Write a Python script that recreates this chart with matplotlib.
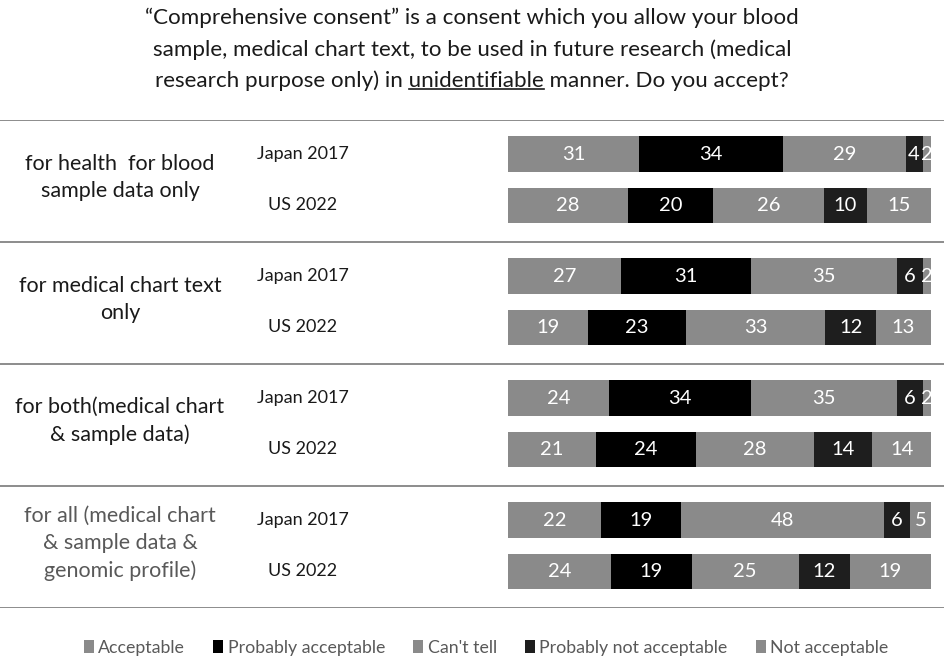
import matplotlib
matplotlib.use("Agg")
import matplotlib.pyplot as plt
from matplotlib.patches import Patch
from matplotlib.lines import Line2D
import numpy as np

plt.rcParams['font.family'] = ['Lato', 'DejaVu Sans']

# ---- data ----
groups = [
    "for health  for blood\nsample data only",
    "for medical chart text\nonly",
    "for both(medical chart\n& sample data)",
    "for all (medical chart\n& sample data &\ngenomic profile)",
]
years = ["Japan 2017", "US 2022"]
categories = ["Acceptable", "Probably acceptable", "Can't tell",
              "Probably not acceptable", "Not acceptable"]

acceptable          = [31, 28, 27, 19, 24, 21, 22, 24]
probably_acceptable = [34, 20, 31, 23, 34, 24, 19, 19]
cant_tell           = [29, 26, 35, 33, 35, 28, 48, 25]
probably_not        = [4, 10, 6, 12, 6, 14, 6, 12]
not_acceptable      = [2, 15, 2, 13, 2, 14, 5, 19]

series = [acceptable, probably_acceptable, cant_tell, probably_not, not_acceptable]
colors = ["#8a8a8a", "#000000", "#8a8a8a", "#1e1e1e", "#8a8a8a"]

title_lines = [
    "\u201cComprehensive consent\u201d is a consent which you allow your blood",
    "sample, medical chart text, to be used in future research (medical",
    "research purpose only) in unidentifiable manner. Do you accept?",
]

# ---- figure ----
W, H = 944, 660
fig = plt.figure(figsize=(W / 100, H / 100), dpi=100)
fig.patch.set_facecolor("white")

# axes spans the full width; x from 0..100 maps onto the bar strip
bar_left, bar_right = 508, 931
x_per_px = 100.0 / (bar_right - bar_left)
xmin = -bar_left * x_per_px
xmax = (W - bar_left) * x_per_px
top_px, bot_px = 120, 608
ax = fig.add_axes([0, 1 - bot_px / H, 1, (bot_px - top_px) / H])
ax.set_xlim(xmin, xmax)
ax.set_ylim(len(groups), 0)
ax.axis("off")

values = np.array(series, dtype=float)         # shape (5, 8)
totals = values.sum(axis=0)
shares = values / totals * 100

offset = 0.21
bar_h = 0.29
ypos = []
for g in range(len(groups)):
    ypos += [g + 0.49 - offset, g + 0.49 + offset]
ypos = np.array(ypos)

left = np.zeros(len(ypos))
for i, (vals, sh) in enumerate(zip(values, shares)):
    ax.barh(ypos, sh, left=left, height=bar_h, color=colors[i],
            edgecolor="none", label=categories[i])
    for y, l, w, v in zip(ypos, left, sh, vals):
        ax.text(l + w / 2, y, f"{int(v)}", ha="center", va="center",
                color="white", fontsize=14.5)
    left += sh

# separators
for g in range(len(groups) + 1):
    ax.axhline(g, color="#8c8c8c", lw=1.4)

# group labels and year labels
for g, name in enumerate(groups):
    color = "#595959" if g == 3 else "#1a1a1a"
    ax.text((120 - bar_left) * x_per_px, g + 0.47, name,
            ha="center", va="center", fontsize=15.5, color=color,
            linespacing=1.45)
for j, y in enumerate(ypos):
    ax.text((303 - bar_left) * x_per_px, y, years[j % 2], ha="center",
            va="center", fontsize=13, color="#1a1a1a")

# title, with the word "unidentifiable" underlined
title_y = [18, 50, 81]
for line, y in zip(title_lines, title_y):
    t = fig.text(0.5, 1 - y / H, line, ha="center", va="center",
                 fontsize=16.1, color="#1a1a1a")
fig.canvas.draw()
renderer = fig.canvas.get_renderer()
bb_line = t.get_window_extent(renderer)
prefix = "research purpose only) in "
word = "unidentifiable"
tmp = fig.text(0, 0, prefix + word, fontsize=16.1)
w_full = tmp.get_window_extent(renderer).width
tmp.set_text(prefix)
w_pre = tmp.get_window_extent(renderer).width
tmp.remove()
x0 = bb_line.x0 + w_pre
x1 = bb_line.x0 + w_full
yu = bb_line.y0 + 2
fig.add_artist(Line2D([x0 / W, x1 / W], [yu / H, yu / H],
                      transform=fig.transFigure, color="#1a1a1a", lw=1.2))

# legend
handles = [Patch(facecolor=c, edgecolor="none") for c in colors]
leg = fig.legend(handles, categories, loc="center", ncol=5,
                 bbox_to_anchor=(0.515, 1 - 648 / H), frameon=False,
                 fontsize=12.8, handlelength=0.55, handleheight=0.75,
                 handletextpad=0.25, columnspacing=1.6)
for txt in leg.get_texts():
    txt.set_color("#595959")

fig.savefig("out.png", dpi=100, facecolor="white")
